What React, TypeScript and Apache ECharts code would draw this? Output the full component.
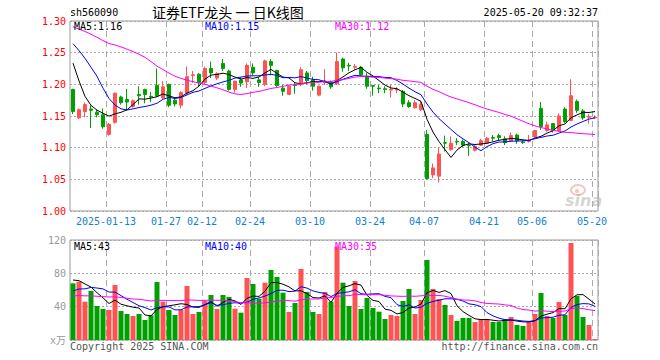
import React, { useEffect, useRef } from 'react';
import * as echarts from 'echarts';

// ---------- data ----------
const dates = [
  '2025-01-03','2025-01-06','2025-01-07','2025-01-08','2025-01-09','2025-01-10','2025-01-13','2025-01-14','2025-01-15','2025-01-16','2025-01-17','2025-01-20','2025-01-21','2025-01-22','2025-01-23','2025-01-24','2025-01-27',
  '2025-02-05','2025-02-06','2025-02-07','2025-02-10','2025-02-11','2025-02-12','2025-02-13','2025-02-14','2025-02-17','2025-02-18','2025-02-19','2025-02-20','2025-02-21','2025-02-24','2025-02-25','2025-02-26','2025-02-27','2025-02-28',
  '2025-03-03','2025-03-04','2025-03-05','2025-03-06','2025-03-07','2025-03-10','2025-03-11','2025-03-12','2025-03-13','2025-03-14','2025-03-17','2025-03-18','2025-03-19','2025-03-20','2025-03-21','2025-03-24','2025-03-25','2025-03-26','2025-03-27','2025-03-28','2025-03-31',
  '2025-04-01','2025-04-02','2025-04-03','2025-04-07','2025-04-08','2025-04-09','2025-04-10','2025-04-11','2025-04-14','2025-04-15','2025-04-16','2025-04-17','2025-04-18','2025-04-21','2025-04-22','2025-04-23','2025-04-24','2025-04-25','2025-04-28','2025-04-29','2025-04-30',
  '2025-05-06','2025-05-07','2025-05-08','2025-05-09','2025-05-12','2025-05-13','2025-05-14','2025-05-15','2025-05-16','2025-05-19','2025-05-20'
];

const opens = [
  1.192,1.147,1.157,1.161,1.156,1.152,1.121,1.140,1.180,1.176,1.165,1.184,1.192,1.181,1.198,1.179,1.200,
  1.175,1.167,1.186,1.214,1.216,1.203,1.225,1.210,1.233,1.221,1.192,1.207,1.204,1.227,1.207,1.200,1.236,1.222,
  1.194,1.184,1.199,1.200,1.218,1.207,1.183,1.203,1.204,1.201,1.240,1.230,1.227,1.227,1.213,1.198,1.194,1.193,1.191,1.191,1.189,
  1.171,1.163,1.160,1.121,1.057,1.055,1.108,1.097,1.110,1.110,1.104,1.096,1.104,1.107,1.116,1.119,1.114,1.111,1.120,1.109,1.110,
  1.117,1.162,1.127,1.138,1.127,1.161,1.143,1.173,1.158,1.148,1.147
];
const closes = [
  1.157,1.160,1.168,1.159,1.152,1.133,1.137,1.186,1.171,1.172,1.174,1.182,1.184,1.180,1.182,1.196,1.167,
  1.169,1.187,1.212,1.215,1.203,1.225,1.218,1.217,1.225,1.192,1.205,1.202,1.230,1.218,1.203,1.237,1.230,1.198,
  1.189,1.197,1.198,1.223,1.206,1.197,1.197,1.204,1.196,1.236,1.226,1.229,1.228,1.215,1.197,1.197,1.193,1.192,1.192,1.192,1.169,
  1.165,1.171,1.168,1.051,1.068,1.090,1.107,1.107,1.109,1.104,1.103,1.102,1.111,1.115,1.115,1.116,1.108,1.119,1.111,1.108,1.111,
  1.127,1.133,1.136,1.127,1.150,1.141,1.182,1.159,1.147,1.149,1.148
];
const lows = [
  1.153,1.145,1.148,1.131,1.148,1.130,1.119,1.138,1.168,1.159,1.163,1.168,1.170,1.172,1.180,1.177,1.164,
  1.165,1.162,1.183,1.202,1.197,1.200,1.210,1.207,1.221,1.190,1.187,1.196,1.194,1.214,1.196,1.197,1.214,1.196,
  1.182,1.183,1.185,1.197,1.200,1.190,1.181,1.199,1.193,1.199,1.220,1.221,1.223,1.214,1.193,1.182,1.186,1.186,1.179,1.186,1.164,
  1.163,1.162,1.158,1.050,1.052,1.045,1.094,1.095,1.104,1.101,1.087,1.094,1.103,1.106,1.110,1.112,1.104,1.109,1.106,1.106,1.108,
  1.115,1.128,1.125,1.124,1.125,1.139,1.142,1.155,1.144,1.138,1.145
];
const highs = [
  1.193,1.162,1.171,1.167,1.160,1.162,1.139,1.187,1.182,1.193,1.176,1.197,1.193,1.188,1.225,1.205,1.201,
  1.178,1.189,1.228,1.221,1.218,1.228,1.236,1.219,1.240,1.223,1.206,1.211,1.233,1.233,1.211,1.239,1.240,1.223,
  1.199,1.199,1.203,1.227,1.221,1.212,1.198,1.224,1.206,1.250,1.242,1.234,1.232,1.229,1.218,1.199,1.199,1.197,1.199,1.196,1.191,
  1.175,1.175,1.174,1.128,1.075,1.101,1.119,1.118,1.115,1.113,1.107,1.104,1.114,1.117,1.120,1.122,1.118,1.124,1.122,1.111,1.120,
  1.128,1.172,1.141,1.139,1.154,1.164,1.208,1.176,1.161,1.153,1.151
];
// volume, 万
const volumes = [
  68,70,46,59,40.8,37.2,36,66,34.8,31.2,28.8,31.2,24,29.6,69.6,46,36,
  30,36,64.8,31.2,33.6,46.8,54,37.2,54,51.6,37.6,32.8,74.4,67.2,49.6,68.8,84,75.6,
  56.8,33.6,44.4,85.2,57.6,33.6,31.2,57.6,46,112,68.8,40.8,70.8,37.2,50.4,38.4,34,25.2,30,28.8,46.8,
  61.2,31.2,48,96,61.2,49.2,42,30,22.8,26.4,26.4,21.6,25.2,24,21.6,21.6,24.8,27.6,18,16.8,21.6,
  31.2,56.4,28.8,26.4,45.6,30,116.4,52.8,27.6,18,1.2
];
// sessions before the visible window (needed for the moving averages)
const priorCloses = [
  1.27,1.28,1.29,1.30,1.29,1.27,1.26,1.26,1.28,1.285,
  1.31,1.33,1.38,1.40,1.36,1.33,1.32,1.29,1.30,1.28,
  1.27,1.29,1.30,1.295,1.32,1.30,1.29,1.23,1.19
];
const priorVolumes = [
  52,58,60,55,50,48,62,58,57,58,
  40,55,62,50,42,38,36,40,38,37,
  46,44,42,48,48,74,66,77,75
];
const tickDates = ['2025-01-13','2025-01-27','2025-02-12','2025-02-24','2025-03-10','2025-03-24','2025-04-07','2025-04-21','2025-05-06','2025-05-20'];
const tickLabels = ['2025-01-13','01-27','02-12','02-24','03-10','03-24','04-07','04-21','05-06','05-20'];

// ---------- helpers ----------
function movingAverage(prior: number[], values: number[], n: number): number[] {
  const all = prior.concat(values);
  return values.map((_, i) => {
    const end = prior.length + i;
    let s = 0;
    for (let k = end - n + 1; k <= end; k++) s += all[k];
    return +(s / n).toFixed(4);
  });
}

const MONO = "'DejaVu Sans Mono', 'Noto Sans CJK SC', monospace";
const UP = '#ff5252';
const DOWN = '#00a000';

export default function App() {
  const ref = useRef<HTMLDivElement>(null);
  useEffect(() => {
    if (!ref.current) return;
    const chart = echarts.init(ref.current, null, { renderer: 'svg', width: 660, height: 360 });

    const ma5 = movingAverage(priorCloses, closes, 5);
    const ma10 = movingAverage(priorCloses, closes, 10);
    const ma30 = movingAverage(priorCloses, closes, 30);
    const vma5 = movingAverage(priorVolumes, volumes, 5);
    const vma10 = movingAverage(priorVolumes, volumes, 10);
    const vma30 = movingAverage(priorVolumes, volumes, 30);
    const last = dates.length - 1;

    const tickIdx = new Set(tickDates.map((d) => dates.indexOf(d)));
    const labelOf: Record<string, string> = {};
    tickDates.forEach((d, i) => (labelOf[d] = tickLabels[i]));

    const candleData = dates.map((_, i) => [opens[i], closes[i], lows[i], highs[i]]);
    const volData = volumes.map((v, i) => ({
      value: v,
      itemStyle: { color: closes[i] >= opens[i] ? UP : DOWN },
    }));

    const vSplit = {
      show: true,
      interval: (i: number) => tickIdx.has(i),
      lineStyle: { color: '#aaaaaa', width: 1, type: [6, 4] },
    };
    const hSplit = { show: true, lineStyle: { color: '#aaaaaa', width: 1, type: [2, 2] } };

    const lineS = (name: string, data: number[], color: string, x: number, y: number) => ({
      name,
      type: 'line',
      xAxisIndex: x,
      yAxisIndex: y,
      data,
      symbol: 'none',
      showSymbol: false,
      lineStyle: { color, width: 1 },
      itemStyle: { color },
      z: 3,
    });

    const txt = (text: string, x: number, y: number, fill: string, extra: any = {}) => ({
      type: 'text',
      x,
      y,
      z: 100,
      style: { text, fill, font: `10px ${MONO}`, align: 'left', verticalAlign: 'middle', ...extra },
    });

    const option: any = {
      animation: false,
      grid: [
        { left: 70, top: 21, width: 528, height: 190, show: true, borderColor: '#999999', borderWidth: 1 },
        { left: 70, top: 240, width: 528, height: 100, show: true, borderColor: '#999999', borderWidth: 1 },
      ],
      xAxis: [
        {
          type: 'category',
          gridIndex: 0,
          data: dates,
          axisLine: { show: false },
          axisTick: { show: false },
          axisLabel: {
            interval: (i: number) => tickIdx.has(i),
            formatter: (v: string) => labelOf[v] || '',
            color: '#1580d2',
            fontSize: 10,
            fontFamily: MONO,
            margin: 5,
            padding: [0, 6, 0, 0],
          },
          splitLine: vSplit,
        },
        {
          type: 'category',
          gridIndex: 1,
          data: dates,
          axisLine: { show: false },
          axisTick: { show: false },
          axisLabel: { show: false },
          splitLine: vSplit,
        },
      ],
      yAxis: [
        {
          type: 'value',
          gridIndex: 0,
          min: 1.0,
          max: 1.3,
          interval: 0.05,
          axisLine: { show: false },
          axisTick: { show: false },
          axisLabel: {
            color: '#ff0000',
            fontSize: 10,
            fontFamily: MONO,
            margin: 4,
            formatter: (v: number) => v.toFixed(2),
          },
          splitLine: hSplit,
        },
        {
          type: 'value',
          gridIndex: 1,
          min: 0,
          max: 120,
          interval: 40,
          axisLine: { show: false },
          axisTick: { show: false },
          axisLabel: {
            color: '#999999',
            fontSize: 10,
            fontFamily: MONO,
            margin: 4,
            formatter: (v: number) => (v === 0 ? 'x万' : String(v)),
          },
          splitLine: hSplit,
        },
      ],
      series: [
        {
          type: 'candlestick',
          xAxisIndex: 0,
          yAxisIndex: 0,
          data: candleData,
          barWidth: 4,
          itemStyle: { color: UP, color0: DOWN, borderColor: UP, borderColor0: DOWN, borderWidth: 1 },
        },
        lineS('MA5', ma5, '#000000', 0, 0),
        lineS('MA10', ma10, '#0000ff', 0, 0),
        lineS('MA30', ma30, '#ff00ff', 0, 0),
        {
          type: 'bar',
          xAxisIndex: 1,
          yAxisIndex: 1,
          data: volData,
          barWidth: 5,
        },
        lineS('VMA5', vma5, '#000000', 1, 1),
        lineS('VMA10', vma10, '#0000ff', 1, 1),
        lineS('VMA30', vma30, '#ff00ff', 1, 1),
      ],
      graphic: [
        txt('sh560090', 70, 12, '#000000'),
        {
          type: 'text',
          x: 152,
          y: 12,
          z: 100,
          style: {
            text: '证券ETF龙头 一 日K线图',
            fill: '#000000',
            font: "14px 'Noto Sans CJK SC', sans-serif",
            align: 'left',
            verticalAlign: 'middle',
          },
        },
        txt('2025-05-20 09:32:37', 598, 12, '#000000', { align: 'right' }),
        txt('MA5:' + ma5[last].toFixed(2), 74, 26, '#000000'),
        txt('MA10:' + ma10[last].toFixed(2), 205, 26, '#0000ff'),
        txt('MA30:' + ma30[last].toFixed(2), 335, 26, '#ff00ff'),
        txt('MA5:' + Math.round(vma5[last]), 74, 246, '#000000'),
        txt('MA10:' + Math.round(vma10[last]), 205, 246, '#0000ff'),
        txt('MA30:' + Math.round(vma30[last]), 335, 246, '#ff00ff'),
        txt('Copyright 2025 SINA.COM', 70, 346, '#555555'),
        txt('http://finance.sina.com.cn', 598, 346, '#555555', { align: 'right' }),
        {
          type: 'group',
          z: 50,
          children: [
            {
              type: 'ellipse',
              shape: { cx: 578, cy: 190, rx: 7, ry: 5 },
              style: { fill: 'none', stroke: 'rgba(235,120,120,0.45)', lineWidth: 2 },
            },
            {
              type: 'circle',
              shape: { cx: 577, cy: 191, r: 2 },
              style: { fill: 'rgba(235,120,120,0.45)' },
            },
            {
              type: 'text',
              x: 565,
              y: 200,
              style: {
                text: 'sina',
                fill: 'rgba(160,160,160,0.45)',
                font: "italic bold 16px 'DejaVu Sans', sans-serif",
                align: 'left',
                verticalAlign: 'middle',
              },
            },
          ],
        },
      ],
    };

    chart.setOption(option);
    return () => chart.dispose();
  }, []);

  return <div ref={ref} style={{ position: 'absolute', left: 0, top: 0, width: 660, height: 360, background: '#fff' }} />;
}
